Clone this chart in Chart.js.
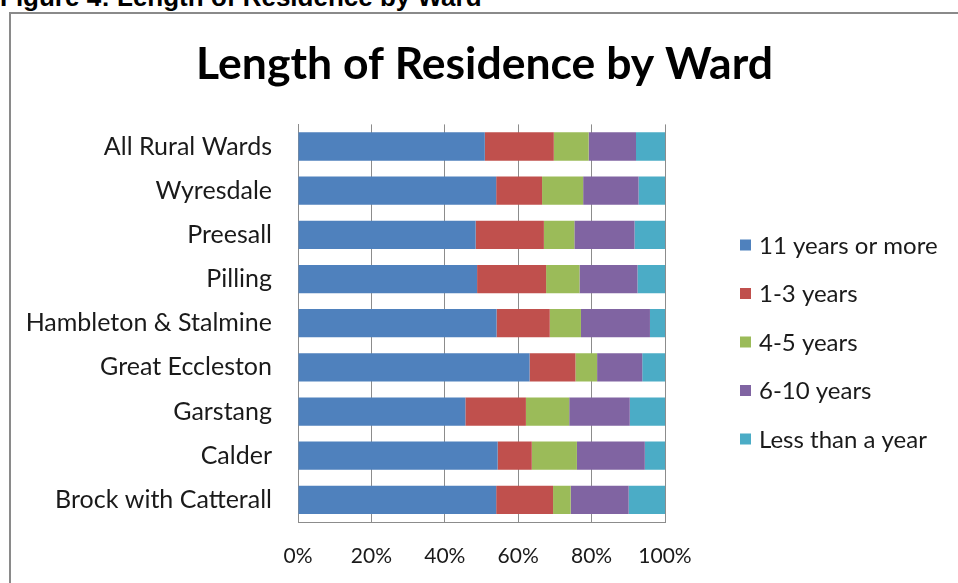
<!DOCTYPE html>
<html>
<head>
<meta charset="utf-8">
<script src="https://cdn.jsdelivr.net/npm/chart.js@4"></script>
<style>
  html, body { margin: 0; padding: 0; background: #fff; overflow: hidden; }
  body { width: 958px; height: 583px; position: relative; }
  #fig {
    position: absolute; left: 0; top: -16px;
    font: bold 26px "Liberation Sans", Arial, sans-serif; line-height: 26px; color: #000;
    white-space: nowrap;
  }
  #frame {
    position: absolute; left: 9px; top: 12px; width: 960px; height: 600px;
    border-left: 2px solid #8a8a8a; border-top: 2px solid #8a8a8a;
  }
  #wrap { position: absolute; left: 11px; top: 14px; width: 947px; height: 569px; }
</style>
</head>
<body>
<div id="fig">Figure 4: Length of Residence by Ward</div>
<div id="frame"></div>
<div id="wrap"><canvas id="chart"></canvas></div>
<script>
const wards = ["All Rural Wards", "Wyresdale", "Preesall", "Pilling", "Hambleton & Stalmine",
  "Great Eccleston", "Garstang", "Calder", "Brock with Catterall"]

// percentages
const elevenPlus = [50.9, 54.0, 48.4, 48.8, 54.1, 63.1, 45.6, 54.4, 54.0]
const oneToThree = [18.8, 12.5, 18.6, 18.8, 14.5, 12.5, 16.5, 9.3, 15.5]
const fourToFive = [9.5, 11.2, 8.3, 9.1, 8.5, 5.9, 11.8, 12.3, 4.8]
const sixToTen = [12.9, 15.1, 16.4, 15.8, 18.8, 12.3, 16.5, 18.5, 15.8]
const underOne = [7.9, 7.2, 8.3, 7.5, 4.1, 6.2, 9.6, 5.5, 9.9]

const xTicks = [0, 20, 40, 60, 80, 100]

const fontFamily = "Lato, 'Open Sans', sans-serif"
const textColor = "#1a1a1a"
const gridColor = "#8c8c8c"

const series = [
  { label: "11 years or more", data: elevenPlus, color: "#4f81bd" },
  { label: "1-3 years", data: oneToThree, color: "#c0504d" },
  { label: "4-5 years", data: fourToFive, color: "#9bbb59" },
  { label: "6-10 years", data: sixToTen, color: "#8064a2" },
  { label: "Less than a year", data: underOne, color: "#4bacc6" }
]

// legend drawn by hand so it sits where Excel put it
const sideLegend = {
  id: "sideLegend",
  afterDraw(chart) {
    const ctx = chart.ctx
    const x = 729, y0 = 231, step = 48.5, box = 11
    ctx.save()
    ctx.font = "24px " + fontFamily
    ctx.textBaseline = "middle"
    ctx.textAlign = "left"
    chart.data.datasets.forEach((ds, i) => {
      const y = y0 + i * step
      ctx.fillStyle = ds.backgroundColor
      ctx.fillRect(x, y - box / 2, box, box)
      ctx.fillStyle = textColor
      ctx.fillText(ds.label, x + 19, y + 1)
    })
    ctx.restore()
  }
}

const config = {
  type: "bar",
  data: {
    labels: wards,
    datasets: series.map(s => ({
      label: s.label,
      data: s.data,
      backgroundColor: s.color,
      borderWidth: 0,
      categoryPercentage: 1,
      barPercentage: 0.64
    }))
  },
  options: {
    indexAxis: "y",
    animation: false,
    responsive: true,
    maintainAspectRatio: false,
    layout: { padding: { left: 0, right: 0, top: 0, bottom: 15 } },
    scales: {
      x: {
        stacked: true,
        min: 0,
        max: 100,
        afterBuildTicks: (axis) => { axis.ticks = xTicks.map(v => ({ value: v })) },
        afterFit: (axis) => { axis.height = 46 },
        ticks: {
          padding: 22,
          color: textColor,
          font: { size: 21, family: fontFamily },
          callback: (v) => v + "%"
        },
        grid: { color: gridColor, lineWidth: 1, drawTicks: false },
        border: { color: gridColor, width: 1 }
      },
      y: {
        stacked: true,
        afterFit: (axis) => { axis.width = 287 },
        ticks: {
          padding: 26,
          color: textColor,
          font: { size: 25, family: fontFamily }
        },
        grid: { display: false, drawTicks: false },
        border: { color: gridColor, width: 1 }
      },
      // empty axis on the right that only reserves room for the legend
      side: {
        type: "category",
        position: "right",
        afterFit: (axis) => { axis.width = 293 },
        ticks: { display: false },
        grid: { display: false, drawTicks: false },
        border: { display: false }
      }
    },
    plugins: {
      legend: { display: false },
      tooltip: { enabled: false },
      title: {
        display: true,
        text: "Length of Residence by Ward",
        color: "#000",
        font: { size: 44.5, weight: "bold", family: fontFamily },
        padding: { top: 24, bottom: 33 }
      }
    }
  },
  plugins: [sideLegend]
}

const residenceChart = new Chart(document.getElementById("chart"), config)
</script>
</body>
</html>
